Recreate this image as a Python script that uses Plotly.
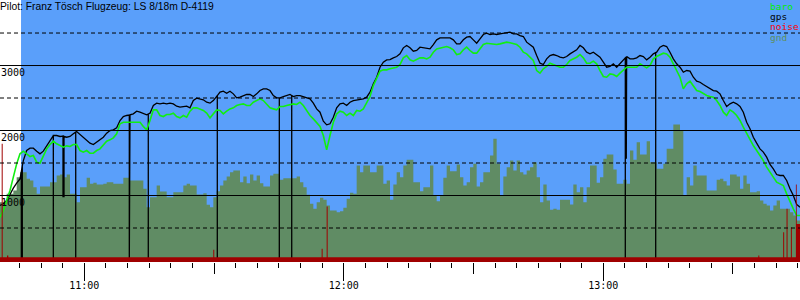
import numpy as np
import plotly.graph_objects as go

# ---------------- data ----------------
# time in minutes after 10:00; samples every 46.25 s starting 10:40:30
SAMPLE_START_MIN = 40.5
SAMPLE_STEP_MIN = 0.770833
X_MIN, X_MAX = 40.5, 225.5
TAKEOFF_MIN = 45.36

GPS_ALT = [
    846, 872, 923, 1026, 1113, 1190, 1256, 1538, 1692, 1728,
    1728, 1682, 1641, 1682, 1769, 1846, 1923, 1923, 1908, 1913,
    1897, 1908, 1949, 1985, 1938, 1897, 1856, 1805, 1785, 1820,
    1856, 1897, 1959, 2000, 2010, 2041, 2154, 2215, 2231, 2241,
    2256, 2297, 2282, 2256, 2241, 2267, 2385, 2421,
    2410, 2421, 2410, 2421, 2410, 2374, 2359, 2369, 2374, 2349,
    2461, 2497, 2487, 2472, 2436, 2421, 2461, 2523, 2590, 2605,
    2574, 2605, 2564, 2502, 2513, 2538, 2554, 2554, 2523, 2564,
    2615, 2641, 2641, 2615, 2538, 2502, 2502, 2523, 2538, 2554,
    2523, 2538, 2538, 2523, 2502, 2487, 2421, 2333,
    2282, 2144, 2087, 2103, 2205, 2349, 2410, 2421, 2385, 2436,
    2461, 2472, 2477, 2487, 2513, 2590, 2718, 2820, 2974, 3051,
    3087, 3092, 3118, 3138, 3179, 3272, 3308, 3272, 3220, 3231,
    3282, 3272, 3272, 3256, 3323, 3395, 3426, 3426, 3426, 3426,
    3395, 3333, 3333, 3395, 3436, 3446, 3395, 3343,
    3410, 3477, 3497, 3477, 3487, 3477, 3487, 3497, 3497, 3513,
    3487, 3487, 3461, 3446, 3359, 3323, 3282, 3154, 3036, 3015,
    3102, 3154, 3169, 3154, 3128, 3118, 3138, 3179, 3205, 3241,
    3308, 3272, 3205, 3179, 3205, 3169, 3128, 3051, 2974, 2985,
    3026, 2974, 3036, 3087, 3138, 3102, 3102, 3118,
    3154, 3138, 3087, 3128, 3179, 3205, 3282, 3308, 3292, 3205,
    3102, 3026, 2974, 2897, 2923, 2913, 2820, 2759, 2743, 2708,
    2677, 2641, 2615, 2605, 2564, 2461, 2369, 2410, 2436, 2410,
    2369, 2282, 2128, 2026, 1897, 1805, 1718, 1667, 1590, 1477,
    1410, 1323, 1308, 1308, 1231, 1103, 1000, 862, 820,
]

BARO_ALT = [
    667, 769, 923, 1077, 1282, 1487, 1641, 1682, 1641, 1600,
    1615, 1513, 1497, 1615, 1718, 1785, 1836, 1795, 1769, 1744,
    1764, 1754, 1785, 1785, 1692, 1667, 1692, 1651, 1651, 1692,
    1718, 1769, 1836, 1856, 1887, 1949, 2103, 2128, 2128, 2128,
    2128, 2138, 2128, 2062, 2010, 2154, 2318, 2318,
    2231, 2215, 2246, 2246, 2267, 2215, 2195, 2231, 2205, 2297,
    2349, 2349, 2333, 2308, 2267, 2195, 2256, 2318, 2308, 2256,
    2297, 2333, 2349, 2385, 2400, 2410, 2385, 2385, 2436, 2461,
    2487, 2461, 2400, 2349, 2333, 2318, 2369, 2369, 2385, 2400,
    2410, 2400, 2436, 2385, 2308, 2231, 2179, 2128,
    2062, 1923, 1703, 1923, 2128, 2256, 2297, 2282, 2231, 2267,
    2231, 2308, 2297, 2333, 2436, 2523, 2692, 2810, 2913, 2933,
    2933, 2949, 2959, 2974, 3015, 3118, 3154, 3087, 3067, 3087,
    3118, 3118, 3102, 3128, 3205, 3256, 3272, 3282, 3292, 3272,
    3241, 3169, 3179, 3241, 3282, 3231, 3190, 3190,
    3256, 3323, 3343, 3333, 3323, 3323, 3333, 3343, 3359, 3349,
    3333, 3323, 3282, 3205, 3179, 3128, 3077, 2923, 2882, 2949,
    2985, 3036, 3015, 3000, 2974, 2974, 3015, 3077, 3102, 3128,
    3169, 3118, 3036, 3036, 3067, 3026, 2923, 2831, 2820, 2872,
    2862, 2831, 2882, 2923, 2974, 2974, 2974, 2974,
    3026, 3000, 2964, 3000, 3102, 3138, 3169, 3190, 3179, 3128,
    3026, 2923, 2820, 2641, 2718, 2759, 2692, 2615, 2600, 2564,
    2538, 2523, 2513, 2461, 2385, 2282, 2231, 2318, 2282, 2231,
    2154, 2051, 1949, 1872, 1769, 1692, 1615, 1538, 1436, 1359,
    1282, 1205, 1179, 1154, 1026, 897, 795, 692, 692,
]

GND_HEIGHT = [
    897, 897, 1026, 1026, 1077, 1282, 1359, 1359, 1256, 1231,
    1128, 1026, 1138, 1138, 1138, 1205, 1205, 1308, 1323, 1282,
    1323, 1026, 1026, 897, 1128, 1128, 1272, 1179, 1195, 1169,
    1169, 1179, 1205, 1205, 1179, 1179, 1179, 1272, 1272, 1231,
    1231, 1231, 1231, 1103, 820, 974, 974, 1154,
    1062, 1062, 974, 974, 1051, 1051, 1051, 1154, 1179, 1154,
    1154, 1015, 1015, 1036, 856, 820, 974, 1067, 1154, 1231,
    1292, 1359, 1385, 1385, 1205, 1292, 1190, 1323, 1231, 1308,
    1190, 1138, 1138, 1308, 1333, 1333, 1241, 1267, 1267, 1267,
    1267, 1292, 1205, 1128, 1010, 872, 795, 897,
    964, 933, 846, 769, 769, 744, 759, 810, 949, 1041,
    1026, 1462, 1359, 1462, 1462, 1359, 1359, 1462, 1462, 1179,
    1231, 933, 1169, 1359, 1282, 1462, 1549, 1549, 1205, 1205,
    1067, 1128, 1128, 1462, 1000, 913, 1000, 1272, 1462, 1374,
    1374, 1477, 1282, 1154, 1205, 1436, 1487, 1138,
    1205, 1359, 1359, 1615, 1872, 1487, 1000, 1292, 1436, 1538,
    1385, 1538, 1359, 1323, 1385, 1436, 1513, 1282, 897, 1169,
    923, 779, 795, 779, 933, 933, 933, 862, 1169, 1051,
    1128, 897, 1128, 1462, 1462, 1195, 1282, 1564, 1631, 1631,
    1400, 1179, 1179, 1241, 1179, 1692, 1549, 1820,
    1631, 1631, 1836, 1513, 1513, 1410, 1410, 1487, 1718, 1718,
    2092, 2092, 2000, 1000, 1282, 1154, 1462, 1308, 1308, 1308,
    1077, 1077, 1077, 1241, 1256, 1220, 1154, 1323, 1323, 1292,
    1103, 1308, 1179, 1051, 1051, 1067, 923, 872, 846, 769,
    846, 923, 795, 795, 795, 744, 692, 615, 308,
]

# gps glitches (time in minutes after 10:00, altitude reported)
GPS_GLITCH_TIMES = [45.43, 45.66, 52.83, 55.07, 55.30, 58.01, 70.40, 74.79,
                    90.75, 105.09, 107.96, 185.10, 185.33, 192.13]
GPS_GLITCH_ALT = [0, 0, 0, 975, 975, 0, 0, 0, 0, 0, 0, 0, 1564, 0]

NOISE_TIMES = [40.5, 40.89, 41.12, 42.12, 42.42, 89.82, 90.05, 114.88, 115.11,
               116.04, 116.27, 215.86, 216.09, 221.61, 221.84, 222.39, 222.62,
               223.39, 223.62, 224.55, 224.74, 225.5]
NOISE_LEVEL = [50, 1795, 50, 77, 50, 164, 50, 180, 50, 831, 50, 77, 50, 436, 50,
               795, 50, 513, 50, 1169, 560, 560]

HOUR_TICKS = [60, 120, 180]
HALF_HOUR_TICKS = [60, 90, 120, 150, 180, 210]
HALF_HOUR_LABELS = ["11:00", "", "12:00", "", "13:00", ""]
Y_LABELS = [1000, 2000, 3000]
GRID_SOLID = [1000, 2000, 3000]
GRID_DASHED = [500, 1500, 2500, 3500]
Y_MIN, Y_MAX = -23, 4008

TITLE = "Pilot: Franz Tösch Flugzeug: LS 8/18m D-4119"
LEGEND = [("baro", "#00ee00"), ("gps", "#000000"), ("noise", "#ff0000"), ("gnd", "#5f8f60")]

# ---------------- build ----------------
t_grid = SAMPLE_START_MIN + SAMPLE_STEP_MIN * np.arange(len(GPS_ALT))

pts = [(t, v, 1) for t, v in zip(t_grid, GPS_ALT)]
for td, vd in zip(GPS_GLITCH_TIMES, GPS_GLITCH_ALT):
    vi = float(np.interp(td, t_grid, GPS_ALT))
    pts += [(td, vi, 0), (td, vd, 0.5), (td, vi, 0.9)]
pts.sort(key=lambda p: (p[0], p[2]))
gps_x = [p[0] for p in pts]
gps_y = [p[1] for p in pts]

BLUE = "#5a9ffa"
GND = "#608c64"
NOISE = "#a00000"
MONO = "DejaVu Sans Mono"

fig = go.Figure()
fig.add_trace(go.Scatter(x=t_grid, y=GND_HEIGHT, mode="lines", line=dict(width=0, shape="hv"),
                         fill="tozeroy", fillcolor=GND, hoverinfo="skip"))
fig.add_trace(go.Scatter(x=gps_x, y=gps_y, mode="lines", line=dict(color="black", width=1.3),
                         hoverinfo="skip"))
fig.add_trace(go.Scatter(x=t_grid, y=BARO_ALT, mode="lines", line=dict(color="#11ee11", width=1.6),
                         hoverinfo="skip"))
fig.add_trace(go.Scatter(x=NOISE_TIMES, y=[-300] * len(NOISE_TIMES), mode="lines",
                         line=dict(width=0, shape="hv"), hoverinfo="skip"))
fig.add_trace(go.Scatter(x=NOISE_TIMES, y=NOISE_LEVEL, mode="lines", line=dict(width=0, shape="hv"),
                         fill="tonexty", fillcolor=NOISE, hoverinfo="skip"))
fig.add_trace(go.Scatter(x=[X_MIN, X_MAX], y=[None, None], xaxis="x2", mode="lines",
                         hoverinfo="skip"))

shapes = [dict(type="rect", xref="x", yref="paper", x0=TAKEOFF_MIN, x1=X_MAX, y0=0, y1=1,
               fillcolor=BLUE, line=dict(width=0), layer="below")]
for v in GRID_SOLID:
    shapes.append(dict(type="line", xref="paper", yref="y", x0=0, x1=1, y0=v, y1=v,
                       line=dict(color="black", width=1), layer="above"))
for v in GRID_DASHED:
    shapes.append(dict(type="line", xref="paper", yref="y", x0=0, x1=1, y0=v, y1=v,
                       line=dict(color="black", width=1, dash="4px,3px"), layer="above"))

ann = [dict(text=TITLE, xref="paper", yref="paper", x=0, y=1, xanchor="left", yanchor="top",
            showarrow=False, font=dict(family="Liberation Sans", size=10.3, color="black"),
            borderpad=0, xshift=-1, yshift=0)]
for v in Y_LABELS:
    ann.append(dict(text=str(v), xref="paper", yref="y", x=0, y=v, xanchor="left", yanchor="top",
                    showarrow=False, font=dict(family=MONO, size=10, color="black"), borderpad=0))
legend_y = [6.3, 16.6, 26.9, 37.2]
for (name, col), yp in zip(LEGEND, legend_y):
    ann.append(dict(text=name, xref="paper", yref="paper", x=769 / 800, y=1 - yp / 262,
                    xanchor="left", yanchor="middle", showarrow=False,
                    font=dict(family=MONO, size=9.5, color=col), borderpad=0))

fig.update_layout(
    width=800, height=300, margin=dict(l=0, r=0, t=0, b=38),
    paper_bgcolor="white", plot_bgcolor="white", showlegend=False,
    shapes=shapes, annotations=ann,
    xaxis=dict(range=[X_MIN, X_MAX], showgrid=False, zeroline=False, showline=False,
               tickmode="array", tickvals=HALF_HOUR_TICKS, ticktext=HALF_HOUR_LABELS,
               ticks="outside", ticklen=11, tickwidth=1, tickcolor="black",
               showticklabels=True, ticklabelstandoff=3, automargin=False,
               tickfont=dict(family=MONO, size=10, color="black"),
               minor=dict(tickmode="linear", tick0=0, dtick=5, ticks="outside", ticklen=5,
                          tickwidth=1, tickcolor="black", showgrid=False)),
    xaxis2=dict(overlaying="x", anchor="y", side="bottom", range=[X_MIN, X_MAX],
                tickmode="array", tickvals=HOUR_TICKS, ticks="outside",
                ticklen=18, tickwidth=1, tickcolor="black", showgrid=False, zeroline=False,
                showline=False, automargin=False, showticklabels=False),
    yaxis=dict(range=[Y_MIN, Y_MAX], showgrid=False, zeroline=False, showticklabels=False,
               showline=False, automargin=False),
)

fig.write_html("out.html")
